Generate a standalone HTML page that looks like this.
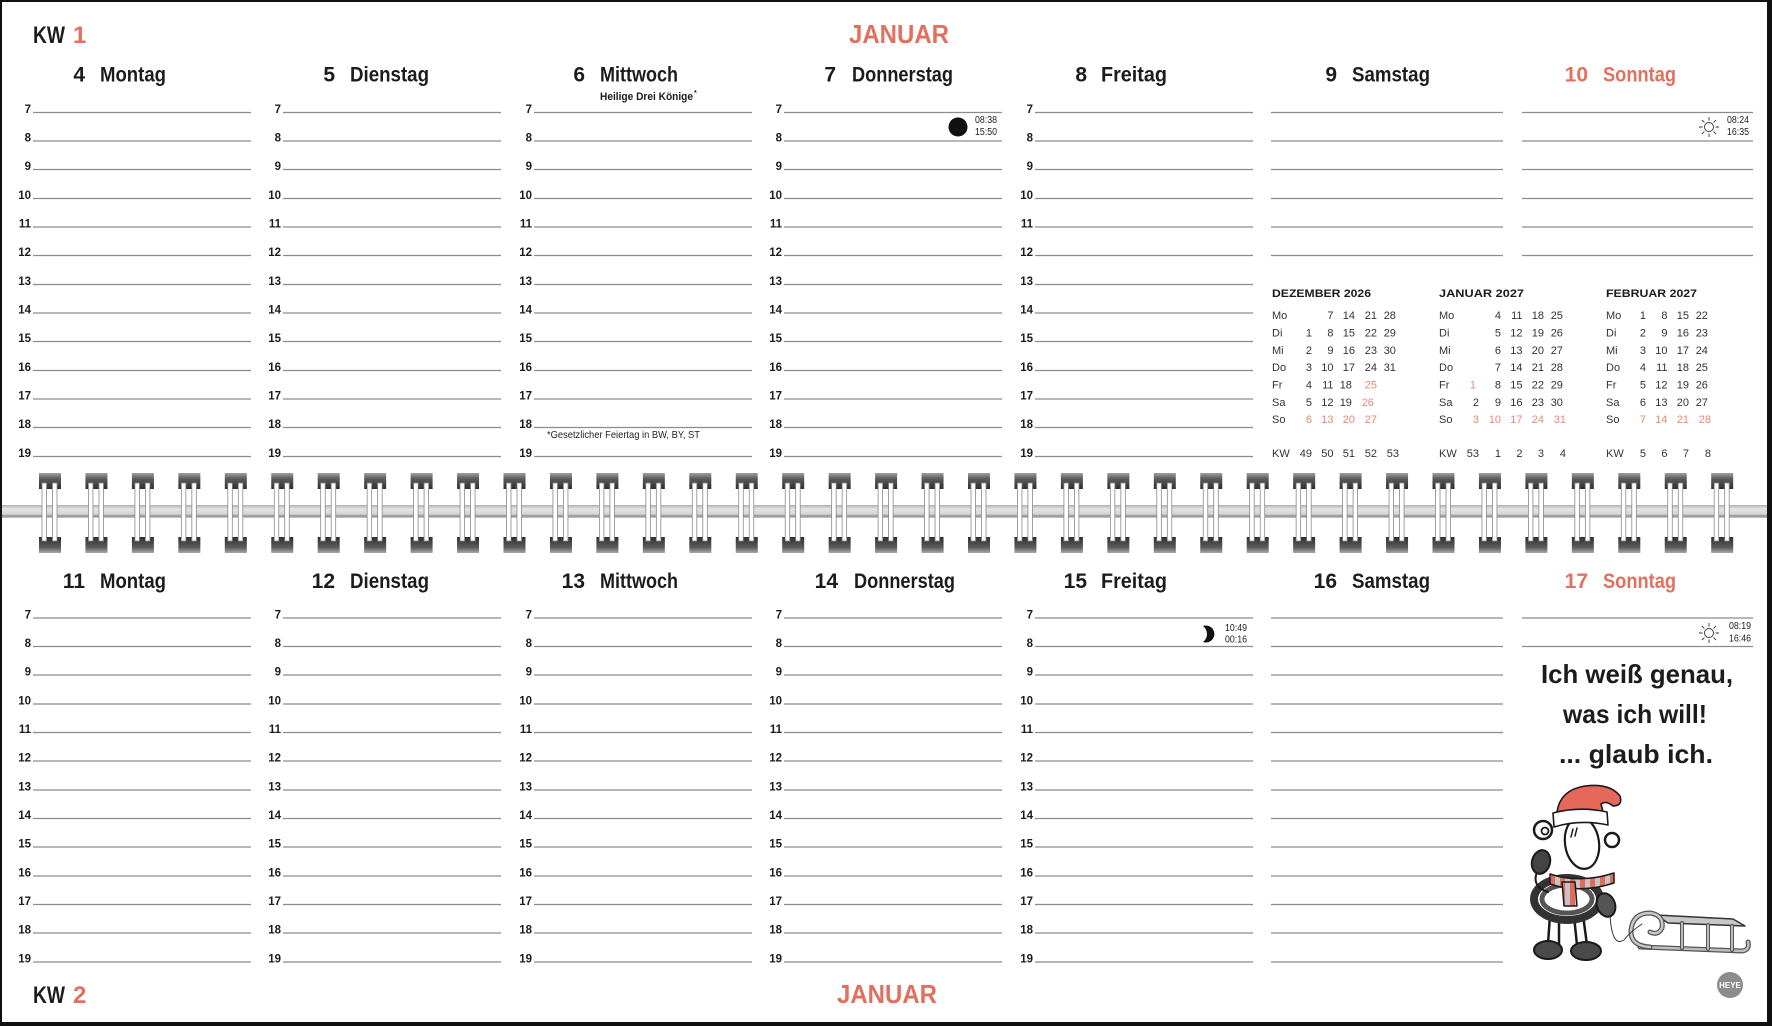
<!DOCTYPE html>
<html><head><meta charset="utf-8">
<style>
html,body{margin:0;padding:0;background:#fff;}
svg{display:block;}
text{font-family:"Liberation Sans",sans-serif;}
.h{font-size:11.5px;font-weight:bold;fill:#1c1c1c;text-anchor:end;}
.dn{font-size:21px;font-weight:bold;fill:#1c1c1c;text-anchor:end;}
.dt{font-size:21px;font-weight:bold;fill:#1c1c1c;}
.red{fill:#e2705e;}
.mc{font-size:11px;fill:#333;}
.mr{font-size:11px;fill:#333;text-anchor:end;}
.mh{font-size:11px;font-weight:bold;fill:#1c1c1c;}
.tm{font-size:10px;fill:#222;text-anchor:end;}
</style></head><body>
<svg width="1772" height="1026" viewBox="0 0 1772 1026" xmlns="http://www.w3.org/2000/svg">
<defs>
<linearGradient id="capT" x1="0" y1="0" x2="0" y2="1"><stop offset="0" stop-color="#a0a0a0"/><stop offset="0.35" stop-color="#5c5c5c"/><stop offset="1" stop-color="#2e2e2e"/></linearGradient>
<linearGradient id="capB" x1="0" y1="0" x2="0" y2="1"><stop offset="0" stop-color="#2e2e2e"/><stop offset="0.65" stop-color="#5c5c5c"/><stop offset="1" stop-color="#a8a8a8"/></linearGradient>
<linearGradient id="band" x1="0" y1="0" x2="0" y2="1"><stop offset="0" stop-color="#b0b0b0"/><stop offset="0.3" stop-color="#e4e4e4"/><stop offset="0.7" stop-color="#d6d6d6"/><stop offset="0.85" stop-color="#8e8e8e"/><stop offset="1" stop-color="#cfcfcf"/></linearGradient>
<g id="ring">
<rect x="-11" y="473" width="22" height="16" fill="url(#capT)"/>
<rect x="-11" y="537" width="22" height="16" fill="url(#capB)"/>
<rect x="-8" y="483" width="4.5" height="58" fill="#fff" stroke="#8a8a8a" stroke-width="0.8"/>
<rect x="2.5" y="483" width="4.5" height="58" fill="#fff" stroke="#8a8a8a" stroke-width="0.8"/>
</g>
<path id="rowsT" d="M0 112.5h218M0 141h218M0 169.5h218M0 198.5h218M0 227h218M0 255.5h218M0 284.5h218M0 313h218M0 341.5h218M0 370.5h218M0 399h218M0 427.5h218M0 456.5h218" stroke="#8c8c8c" stroke-width="1.3" fill="none"/>
<path id="rowsB" d="M0 618h218M0 646.5h218M0 675h218M0 704h218M0 732.5h218M0 761h218M0 790h218M0 818.5h218M0 847h218M0 876h218M0 904.5h218M0 933h218M0 962h218" stroke="#8c8c8c" stroke-width="1.3" fill="none"/>
<g id="sun" stroke="#333" stroke-width="0.9" fill="none">
<circle cx="0" cy="0" r="4.5" fill="#fff"/>
<path d="M0 -6.5V-10M0 6.5V10M-6.5 0H-10M6.5 0H10M4.6 4.6L7.1 7.1M-4.6 -4.6L-7.1 -7.1M4.6 -4.6L7.1 -7.1M-4.6 4.6L-7.1 7.1"/>
</g>
<pattern id="scarf" x="0" y="0" width="10" height="10" patternUnits="userSpaceOnUse"><rect width="5" height="10" fill="#e5695a"/><rect x="5" width="5" height="10" fill="#c4c4c4"/></pattern>
</defs>

<rect width="1772" height="1026" fill="#fff"/>

<!-- TOP HEADERS -->
<text x="33" y="43" font-size="24" font-weight="bold" fill="#1c1c1c" textLength="32" lengthAdjust="spacingAndGlyphs">KW</text>
<text x="73" y="43" font-size="24" font-weight="bold" class="red">1</text>
<text x="899" y="43" font-size="26" font-weight="bold" class="red" text-anchor="middle" textLength="100" lengthAdjust="spacingAndGlyphs">JANUAR</text>

<text class="dn" x="85" y="81.5">4</text><text class="dt" x="100" y="81.5" textLength="66" lengthAdjust="spacingAndGlyphs">Montag</text>
<text class="dn" x="335" y="81.5">5</text><text class="dt" x="350" y="81.5" textLength="79" lengthAdjust="spacingAndGlyphs">Dienstag</text>
<text class="dn" x="585" y="81.5">6</text><text class="dt" x="600" y="81.5" textLength="78" lengthAdjust="spacingAndGlyphs">Mittwoch</text>
<text class="dn" x="836" y="81.5">7</text><text class="dt" x="852" y="81.5" textLength="101" lengthAdjust="spacingAndGlyphs">Donnerstag</text>
<text class="dn" x="1087" y="81.5">8</text><text class="dt" x="1101" y="81.5" textLength="66" lengthAdjust="spacingAndGlyphs">Freitag</text>
<text class="dn" x="1337" y="81.5">9</text><text class="dt" x="1352" y="81.5" textLength="78" lengthAdjust="spacingAndGlyphs">Samstag</text>
<text class="dn red" x="1588" y="81.5">10</text><text class="dt red" x="1603" y="81.5" textLength="73" lengthAdjust="spacingAndGlyphs">Sonntag</text>

<text x="600" y="100" font-size="11" font-weight="bold" fill="#1c1c1c" textLength="93" lengthAdjust="spacingAndGlyphs">Heilige Drei Könige</text>
<text x="694" y="95" font-size="7" font-weight="bold" fill="#1c1c1c">*</text>

<!-- TOP COLUMNS -->
<g transform="translate(33,0)"><use href="#rowsT"/>
<text class="h"><tspan x="-2" y="113">7</tspan><tspan x="-2" y="141.5">8</tspan><tspan x="-2" y="170">9</tspan><tspan x="-2" y="199">10</tspan><tspan x="-2" y="227.5">11</tspan><tspan x="-2" y="256">12</tspan><tspan x="-2" y="285">13</tspan><tspan x="-2" y="313.5">14</tspan><tspan x="-2" y="342">15</tspan><tspan x="-2" y="371">16</tspan><tspan x="-2" y="399.5">17</tspan><tspan x="-2" y="428">18</tspan><tspan x="-2" y="457">19</tspan></text></g>
<g transform="translate(283,0)"><use href="#rowsT"/>
<text class="h"><tspan x="-2" y="113">7</tspan><tspan x="-2" y="141.5">8</tspan><tspan x="-2" y="170">9</tspan><tspan x="-2" y="199">10</tspan><tspan x="-2" y="227.5">11</tspan><tspan x="-2" y="256">12</tspan><tspan x="-2" y="285">13</tspan><tspan x="-2" y="313.5">14</tspan><tspan x="-2" y="342">15</tspan><tspan x="-2" y="371">16</tspan><tspan x="-2" y="399.5">17</tspan><tspan x="-2" y="428">18</tspan><tspan x="-2" y="457">19</tspan></text></g>
<g transform="translate(534,0)"><use href="#rowsT"/>
<text class="h"><tspan x="-2" y="113">7</tspan><tspan x="-2" y="141.5">8</tspan><tspan x="-2" y="170">9</tspan><tspan x="-2" y="199">10</tspan><tspan x="-2" y="227.5">11</tspan><tspan x="-2" y="256">12</tspan><tspan x="-2" y="285">13</tspan><tspan x="-2" y="313.5">14</tspan><tspan x="-2" y="342">15</tspan><tspan x="-2" y="371">16</tspan><tspan x="-2" y="399.5">17</tspan><tspan x="-2" y="428">18</tspan><tspan x="-2" y="457">19</tspan></text></g>
<g transform="translate(784,0)"><use href="#rowsT"/>
<text class="h"><tspan x="-2" y="113">7</tspan><tspan x="-2" y="141.5">8</tspan><tspan x="-2" y="170">9</tspan><tspan x="-2" y="199">10</tspan><tspan x="-2" y="227.5">11</tspan><tspan x="-2" y="256">12</tspan><tspan x="-2" y="285">13</tspan><tspan x="-2" y="313.5">14</tspan><tspan x="-2" y="342">15</tspan><tspan x="-2" y="371">16</tspan><tspan x="-2" y="399.5">17</tspan><tspan x="-2" y="428">18</tspan><tspan x="-2" y="457">19</tspan></text></g>
<g transform="translate(1035,0)"><use href="#rowsT"/>
<text class="h"><tspan x="-2" y="113">7</tspan><tspan x="-2" y="141.5">8</tspan><tspan x="-2" y="170">9</tspan><tspan x="-2" y="199">10</tspan><tspan x="-2" y="227.5">11</tspan><tspan x="-2" y="256">12</tspan><tspan x="-2" y="285">13</tspan><tspan x="-2" y="313.5">14</tspan><tspan x="-2" y="342">15</tspan><tspan x="-2" y="371">16</tspan><tspan x="-2" y="399.5">17</tspan><tspan x="-2" y="428">18</tspan><tspan x="-2" y="457">19</tspan></text></g>

<path d="M1271 112.5H1503M1271 141H1503M1271 169.5H1503M1271 198.5H1503M1271 227H1503M1271 255.5H1503M1522 112.5H1753M1522 141H1753M1522 169.5H1753M1522 198.5H1753M1522 227H1753M1522 255.5H1753" stroke="#8c8c8c" stroke-width="1.3" fill="none"/>

<text x="547" y="438" font-size="10.5" fill="#222" textLength="153" lengthAdjust="spacingAndGlyphs">*Gesetzlicher Feiertag in BW, BY, ST</text>

<!-- moon / sun top -->
<circle cx="958" cy="127" r="9.5" fill="#111"/>
<text class="tm" x="997" y="123" textLength="22" lengthAdjust="spacingAndGlyphs">08:38</text>
<text class="tm" x="997" y="135" textLength="22" lengthAdjust="spacingAndGlyphs">15:50</text>
<use href="#sun" x="1709" y="127"/>
<text class="tm" x="1749" y="123" textLength="22" lengthAdjust="spacingAndGlyphs">08:24</text>
<text class="tm" x="1749" y="135" textLength="22" lengthAdjust="spacingAndGlyphs">16:35</text>

<!-- MINI CALENDARS -->
<text class="mh" x="1272" y="297" textLength="99" lengthAdjust="spacingAndGlyphs">DEZEMBER 2026</text>
<text class="mh red" x="1439" y="297" textLength="85" lengthAdjust="spacingAndGlyphs">JANUAR 2027</text>
<text class="mh" x="1606" y="297" textLength="91" lengthAdjust="spacingAndGlyphs">FEBRUAR 2027</text>

<text class="mc"><tspan x="1272" y="319">Mo</tspan><tspan x="1272" y="336.5">Di</tspan><tspan x="1272" y="354">Mi</tspan><tspan x="1272" y="371">Do</tspan><tspan x="1272" y="388.5">Fr</tspan><tspan x="1272" y="406">Sa</tspan><tspan x="1272" y="423">So</tspan><tspan x="1272" y="457">KW</tspan></text>
<text class="mc"><tspan x="1439" y="319">Mo</tspan><tspan x="1439" y="336.5">Di</tspan><tspan x="1439" y="354">Mi</tspan><tspan x="1439" y="371">Do</tspan><tspan x="1439" y="388.5">Fr</tspan><tspan x="1439" y="406">Sa</tspan><tspan x="1439" y="423">So</tspan><tspan x="1439" y="457">KW</tspan></text>
<text class="mc"><tspan x="1606" y="319">Mo</tspan><tspan x="1606" y="336.5">Di</tspan><tspan x="1606" y="354">Mi</tspan><tspan x="1606" y="371">Do</tspan><tspan x="1606" y="388.5">Fr</tspan><tspan x="1606" y="406">Sa</tspan><tspan x="1606" y="423">So</tspan><tspan x="1606" y="457">KW</tspan></text>

<!-- Dezember -->
<text class="mr">
<tspan x="1333.5" y="319">7</tspan><tspan x="1355" y="319">14</tspan><tspan x="1377" y="319">21</tspan><tspan x="1399" y="319">28</tspan>
<tspan x="1312" y="336.5">1</tspan><tspan x="1333.5" y="336.5">8</tspan><tspan x="1355" y="336.5">15</tspan><tspan x="1377" y="336.5">22</tspan><tspan x="1399" y="336.5">29</tspan>
<tspan x="1312" y="354">2</tspan><tspan x="1333.5" y="354">9</tspan><tspan x="1355" y="354">16</tspan><tspan x="1377" y="354">23</tspan><tspan x="1399" y="354">30</tspan>
<tspan x="1312" y="371">3</tspan><tspan x="1333.5" y="371">10</tspan><tspan x="1355" y="371">17</tspan><tspan x="1377" y="371">24</tspan><tspan x="1399" y="371">31</tspan>
<tspan x="1312" y="388.5">4</tspan><tspan x="1333.5" y="388.5">11</tspan><tspan x="1355" y="388.5">18</tspan>
<tspan x="1312" y="406">5</tspan><tspan x="1333.5" y="406">12</tspan><tspan x="1355" y="406">19</tspan>
<tspan x="1312" y="457">49</tspan><tspan x="1333.5" y="457">50</tspan><tspan x="1355" y="457">51</tspan><tspan x="1377" y="457">52</tspan><tspan x="1399" y="457">53</tspan>
</text>
<text class="mr" style="fill:#e58a78">
<tspan x="1377" y="388.5">25</tspan><tspan x="1377" y="406">26</tspan>
<tspan x="1312" y="423">6</tspan><tspan x="1333.5" y="423">13</tspan><tspan x="1355" y="423">20</tspan><tspan x="1377" y="423">27</tspan>
</text>
<!-- Januar -->
<text class="mr">
<tspan x="1501" y="319">4</tspan><tspan x="1522.5" y="319">11</tspan><tspan x="1544" y="319">18</tspan><tspan x="1566" y="319">25</tspan>
<tspan x="1501" y="336.5">5</tspan><tspan x="1522.5" y="336.5">12</tspan><tspan x="1544" y="336.5">19</tspan><tspan x="1566" y="336.5">26</tspan>
<tspan x="1501" y="354">6</tspan><tspan x="1522.5" y="354">13</tspan><tspan x="1544" y="354">20</tspan><tspan x="1566" y="354">27</tspan>
<tspan x="1501" y="371">7</tspan><tspan x="1522.5" y="371">14</tspan><tspan x="1544" y="371">21</tspan><tspan x="1566" y="371">28</tspan>
<tspan x="1501" y="388.5">8</tspan><tspan x="1522.5" y="388.5">15</tspan><tspan x="1544" y="388.5">22</tspan><tspan x="1566" y="388.5">29</tspan>
<tspan x="1479" y="406">2</tspan><tspan x="1501" y="406">9</tspan><tspan x="1522.5" y="406">16</tspan><tspan x="1544" y="406">23</tspan><tspan x="1566" y="406">30</tspan>
<tspan x="1479" y="457">53</tspan><tspan x="1501" y="457">1</tspan><tspan x="1522.5" y="457">2</tspan><tspan x="1544" y="457">3</tspan><tspan x="1566" y="457">4</tspan>
</text>
<text class="mr" style="fill:#e58a78">
<tspan x="1479" y="388.5">1</tspan>
<tspan x="1479" y="423">3</tspan><tspan x="1501" y="423">10</tspan><tspan x="1522.5" y="423">17</tspan><tspan x="1544" y="423">24</tspan><tspan x="1566" y="423">31</tspan>
</text>
<!-- Februar -->
<text class="mr">
<tspan x="1646" y="319">1</tspan><tspan x="1667.5" y="319">8</tspan><tspan x="1689" y="319">15</tspan><tspan x="1711" y="319">22</tspan>
<tspan x="1646" y="336.5">2</tspan><tspan x="1667.5" y="336.5">9</tspan><tspan x="1689" y="336.5">16</tspan><tspan x="1711" y="336.5">23</tspan>
<tspan x="1646" y="354">3</tspan><tspan x="1667.5" y="354">10</tspan><tspan x="1689" y="354">17</tspan><tspan x="1711" y="354">24</tspan>
<tspan x="1646" y="371">4</tspan><tspan x="1667.5" y="371">11</tspan><tspan x="1689" y="371">18</tspan><tspan x="1711" y="371">25</tspan>
<tspan x="1646" y="388.5">5</tspan><tspan x="1667.5" y="388.5">12</tspan><tspan x="1689" y="388.5">19</tspan><tspan x="1711" y="388.5">26</tspan>
<tspan x="1646" y="406">6</tspan><tspan x="1667.5" y="406">13</tspan><tspan x="1689" y="406">20</tspan><tspan x="1711" y="406">27</tspan>
<tspan x="1646" y="457">5</tspan><tspan x="1667.5" y="457">6</tspan><tspan x="1689" y="457">7</tspan><tspan x="1711" y="457">8</tspan>
</text>
<text class="mr" style="fill:#e58a78">
<tspan x="1646" y="423">7</tspan><tspan x="1667.5" y="423">14</tspan><tspan x="1689" y="423">21</tspan><tspan x="1711" y="423">28</tspan>
</text>

<!-- SPIRAL BINDING -->
<rect x="0" y="505" width="1772" height="13" fill="url(#band)"/>
<use href="#ring" x="50"/><use href="#ring" x="96.45"/><use href="#ring" x="142.9"/><use href="#ring" x="189.35"/><use href="#ring" x="235.8"/><use href="#ring" x="282.25"/><use href="#ring" x="328.7"/><use href="#ring" x="375.15"/><use href="#ring" x="421.6"/><use href="#ring" x="468.05"/><use href="#ring" x="514.5"/><use href="#ring" x="560.95"/><use href="#ring" x="607.4"/><use href="#ring" x="653.85"/><use href="#ring" x="700.3"/><use href="#ring" x="746.75"/><use href="#ring" x="793.2"/><use href="#ring" x="839.65"/><use href="#ring" x="886.1"/><use href="#ring" x="932.55"/><use href="#ring" x="979"/><use href="#ring" x="1025.45"/><use href="#ring" x="1071.9"/><use href="#ring" x="1118.35"/><use href="#ring" x="1164.8"/><use href="#ring" x="1211.25"/><use href="#ring" x="1257.7"/><use href="#ring" x="1304.15"/><use href="#ring" x="1350.6"/><use href="#ring" x="1397.05"/><use href="#ring" x="1443.5"/><use href="#ring" x="1489.95"/><use href="#ring" x="1536.4"/><use href="#ring" x="1582.85"/><use href="#ring" x="1629.3"/><use href="#ring" x="1675.75"/><use href="#ring" x="1722.2"/>

<!-- BOTTOM HEADERS -->
<text class="dn" x="85" y="588">11</text><text class="dt" x="100" y="588" textLength="66" lengthAdjust="spacingAndGlyphs">Montag</text>
<text class="dn" x="335" y="588">12</text><text class="dt" x="350" y="588" textLength="79" lengthAdjust="spacingAndGlyphs">Dienstag</text>
<text class="dn" x="585" y="588">13</text><text class="dt" x="600" y="588" textLength="78" lengthAdjust="spacingAndGlyphs">Mittwoch</text>
<text class="dn" x="838" y="588">14</text><text class="dt" x="854" y="588" textLength="101" lengthAdjust="spacingAndGlyphs">Donnerstag</text>
<text class="dn" x="1087" y="588">15</text><text class="dt" x="1101" y="588" textLength="66" lengthAdjust="spacingAndGlyphs">Freitag</text>
<text class="dn" x="1337" y="588">16</text><text class="dt" x="1352" y="588" textLength="78" lengthAdjust="spacingAndGlyphs">Samstag</text>
<text class="dn red" x="1588" y="588">17</text><text class="dt red" x="1603" y="588" textLength="73" lengthAdjust="spacingAndGlyphs">Sonntag</text>

<!-- BOTTOM COLUMNS -->
<g transform="translate(33,0)"><use href="#rowsB"/>
<text class="h"><tspan x="-2" y="618.5">7</tspan><tspan x="-2" y="647">8</tspan><tspan x="-2" y="675.5">9</tspan><tspan x="-2" y="704.5">10</tspan><tspan x="-2" y="733">11</tspan><tspan x="-2" y="761.5">12</tspan><tspan x="-2" y="790.5">13</tspan><tspan x="-2" y="819">14</tspan><tspan x="-2" y="847.5">15</tspan><tspan x="-2" y="876.5">16</tspan><tspan x="-2" y="905">17</tspan><tspan x="-2" y="933.5">18</tspan><tspan x="-2" y="962.5">19</tspan></text></g>
<g transform="translate(283,0)"><use href="#rowsB"/>
<text class="h"><tspan x="-2" y="618.5">7</tspan><tspan x="-2" y="647">8</tspan><tspan x="-2" y="675.5">9</tspan><tspan x="-2" y="704.5">10</tspan><tspan x="-2" y="733">11</tspan><tspan x="-2" y="761.5">12</tspan><tspan x="-2" y="790.5">13</tspan><tspan x="-2" y="819">14</tspan><tspan x="-2" y="847.5">15</tspan><tspan x="-2" y="876.5">16</tspan><tspan x="-2" y="905">17</tspan><tspan x="-2" y="933.5">18</tspan><tspan x="-2" y="962.5">19</tspan></text></g>
<g transform="translate(534,0)"><use href="#rowsB"/>
<text class="h"><tspan x="-2" y="618.5">7</tspan><tspan x="-2" y="647">8</tspan><tspan x="-2" y="675.5">9</tspan><tspan x="-2" y="704.5">10</tspan><tspan x="-2" y="733">11</tspan><tspan x="-2" y="761.5">12</tspan><tspan x="-2" y="790.5">13</tspan><tspan x="-2" y="819">14</tspan><tspan x="-2" y="847.5">15</tspan><tspan x="-2" y="876.5">16</tspan><tspan x="-2" y="905">17</tspan><tspan x="-2" y="933.5">18</tspan><tspan x="-2" y="962.5">19</tspan></text></g>
<g transform="translate(784,0)"><use href="#rowsB"/>
<text class="h"><tspan x="-2" y="618.5">7</tspan><tspan x="-2" y="647">8</tspan><tspan x="-2" y="675.5">9</tspan><tspan x="-2" y="704.5">10</tspan><tspan x="-2" y="733">11</tspan><tspan x="-2" y="761.5">12</tspan><tspan x="-2" y="790.5">13</tspan><tspan x="-2" y="819">14</tspan><tspan x="-2" y="847.5">15</tspan><tspan x="-2" y="876.5">16</tspan><tspan x="-2" y="905">17</tspan><tspan x="-2" y="933.5">18</tspan><tspan x="-2" y="962.5">19</tspan></text></g>
<g transform="translate(1035,0)"><use href="#rowsB"/>
<text class="h"><tspan x="-2" y="618.5">7</tspan><tspan x="-2" y="647">8</tspan><tspan x="-2" y="675.5">9</tspan><tspan x="-2" y="704.5">10</tspan><tspan x="-2" y="733">11</tspan><tspan x="-2" y="761.5">12</tspan><tspan x="-2" y="790.5">13</tspan><tspan x="-2" y="819">14</tspan><tspan x="-2" y="847.5">15</tspan><tspan x="-2" y="876.5">16</tspan><tspan x="-2" y="905">17</tspan><tspan x="-2" y="933.5">18</tspan><tspan x="-2" y="962.5">19</tspan></text></g>

<path d="M1271 618H1503M1271 646.5H1503M1271 675H1503M1271 704H1503M1271 732.5H1503M1271 761H1503M1271 790H1503M1271 818.5H1503M1271 847H1503M1271 876H1503M1271 904.5H1503M1271 933H1503M1271 962H1503M1522 618H1753M1522 646.5H1753" stroke="#8c8c8c" stroke-width="1.3" fill="none"/>

<!-- moon Freitag -->
<path d="M1203 626 A8.5 8.5 0 1 1 1203 642 A10 10 0 0 0 1203 626 Z" fill="#111"/>
<text class="tm" x="1247" y="631" textLength="22" lengthAdjust="spacingAndGlyphs">10:49</text>
<text class="tm" x="1247" y="642.5" textLength="22" lengthAdjust="spacingAndGlyphs">00:16</text>
<use href="#sun" x="1709" y="633"/>
<text class="tm" x="1751" y="629" textLength="22" lengthAdjust="spacingAndGlyphs">08:19</text>
<text class="tm" x="1751" y="641.5" textLength="22" lengthAdjust="spacingAndGlyphs">16:46</text>

<!-- QUOTE -->
<text x="1637" y="683" font-size="26" font-weight="bold" fill="#1c1c1c" text-anchor="middle" textLength="192" lengthAdjust="spacingAndGlyphs">Ich weiß genau,</text>
<text x="1635" y="723" font-size="26" font-weight="bold" fill="#1c1c1c" text-anchor="middle" textLength="144" lengthAdjust="spacingAndGlyphs">was ich will!</text>
<text x="1636" y="763" font-size="26" font-weight="bold" fill="#1c1c1c" text-anchor="middle" textLength="154" lengthAdjust="spacingAndGlyphs">... glaub ich.</text>

<!-- SHEEP ILLUSTRATION -->
<g stroke="#1a1a1a" stroke-linejoin="round" stroke-linecap="round">
<!-- sled -->
<path d="M1640 947 L1742 951 Q1750 950 1748 942" fill="none" stroke="#555" stroke-width="5"/>
<path d="M1640 947 L1742 951 Q1750 950 1748 942" fill="none" stroke="#bdbdbd" stroke-width="2.5"/>
<path d="M1656 915 L1733 919 L1745 926 L1668 923 Z" fill="#c8c8c8" stroke="#333" stroke-width="1.5"/>
<path d="M1682 923 V948 M1708 925 V949 M1732 926 V950" fill="none" stroke="#555" stroke-width="4"/>
<path d="M1682 923 V948 M1708 925 V949 M1732 926 V950" fill="none" stroke="#c8c8c8" stroke-width="1.8"/>
<path d="M1650 947 Q1630 946 1631 930 Q1633 913 1650 913 Q1664 915 1662 928 Q1658 936 1650 932" fill="none" stroke="#555" stroke-width="5"/>
<path d="M1650 947 Q1630 946 1631 930 Q1633 913 1650 913 Q1664 915 1662 928 Q1658 936 1650 932" fill="none" stroke="#c8c8c8" stroke-width="2.5"/>
<!-- string -->
<path d="M1610 915 Q1612 948 1624 940 Q1630 932 1642 924" fill="none" stroke="#333" stroke-width="1"/>
<!-- legs -->
<path d="M1550 915 L1548 944 M1559 916 L1559 944 M1574 916 L1577 945 M1583 915 L1587 945" fill="none" stroke-width="2.5"/>
<!-- feet -->
<ellipse cx="1548" cy="950" rx="14" ry="9" fill="#4a4a4a" stroke-width="2"/>
<ellipse cx="1586" cy="951" rx="15" ry="9" fill="#4a4a4a" stroke-width="2"/>
<!-- body wool -->
<ellipse cx="1567" cy="899" rx="33" ry="21" fill="#fff" stroke="#333" stroke-width="8" stroke-dasharray="1 1.4"/>
<ellipse cx="1567" cy="899" rx="25" ry="14" fill="#fff" stroke="#555" stroke-width="5" stroke-dasharray="1 1.8"/>
<!-- scarf -->
<path d="M1550 874 Q1580 884 1614 873 L1614 883 Q1580 894 1550 884 Z" fill="url(#scarf)" stroke-width="1.5"/>
<path d="M1562 882 L1575 882 L1577 906 L1564 906 Z" fill="url(#scarf)" stroke-width="1.5"/>
<!-- right mitten -->
<ellipse cx="1606" cy="905" rx="9" ry="12" fill="#555" stroke-width="2" transform="rotate(-20 1606 905)"/>
<!-- arm -->
<path d="M1538 870 Q1530 886 1548 892" fill="none" stroke-width="2"/>
<!-- ears -->
<circle cx="1543" cy="830" r="9" fill="#fff" stroke-width="2.5"/>
<circle cx="1545" cy="831" r="3.5" fill="none" stroke-width="1.8"/>
<circle cx="1612" cy="840" r="7" fill="#fff" stroke-width="2.5"/>
<!-- head -->
<ellipse cx="1582" cy="843" rx="17" ry="26" fill="#fff" stroke-width="2.2" transform="rotate(-8 1582 843)"/>
<path d="M1573 829 L1571 837 M1577 828 L1575 836" fill="none" stroke-width="1.5"/>
<!-- left hand -->
<ellipse cx="1541" cy="862" rx="9" ry="12" fill="#444" stroke-width="2" transform="rotate(15 1541 862)"/>
<!-- hat -->
<path d="M1557 812 Q1560 790 1585 786 Q1610 783 1620 796 Q1623 806 1613 806 Q1606 800 1601 804 L1603 812 Z" fill="#e5695a" stroke-width="1.6"/>
<path d="M1553 813 Q1580 806 1607 812 L1608 825 Q1580 819 1554 827 Z" fill="#fff" stroke-width="1.6"/>
</g>

<!-- HEYE logo -->
<circle cx="1730" cy="985" r="13" fill="#8c8c8c"/>
<text x="1730" y="988" font-size="8" font-weight="bold" fill="#fff" text-anchor="middle">HEYE</text>

<!-- FOOTER -->
<text x="33" y="1003" font-size="24" font-weight="bold" fill="#1c1c1c" textLength="32" lengthAdjust="spacingAndGlyphs">KW</text>
<text x="73" y="1003" font-size="24" font-weight="bold" class="red">2</text>
<text x="887" y="1003" font-size="26" font-weight="bold" class="red" text-anchor="middle" textLength="100" lengthAdjust="spacingAndGlyphs">JANUAR</text>

<!-- BORDER -->
<rect x="0" y="0" width="1772" height="2" fill="#111"/>
<rect x="0" y="0" width="2" height="1026" fill="#111"/>
<rect x="1767" y="0" width="5" height="1026" fill="#111"/>
<rect x="0" y="1022" width="1772" height="4" fill="#111"/>
</svg>
</body></html>
